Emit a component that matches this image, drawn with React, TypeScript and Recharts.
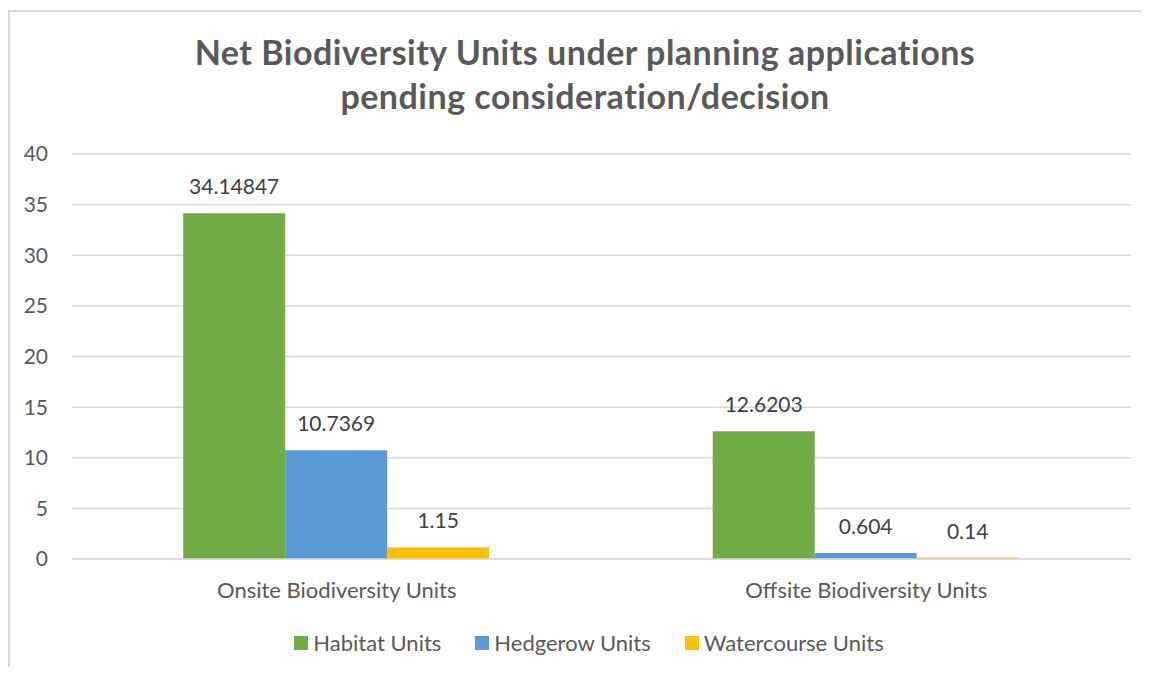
import { Bar, BarChart, CartesianGrid, LabelList, XAxis, YAxis } from "recharts"

const categories = ["Onsite Biodiversity Units", "Offsite Biodiversity Units"]
const habitatUnits = [34.14847, 12.6203]
const hedgerowUnits = [10.7369, 0.604]
const watercourseUnits = [1.15, 0.14]
const yTicks = [0, 5, 10, 15, 20, 25, 30, 35, 40]

const series = [
  { key: "habitat", name: "Habitat Units", color: "#70AD47" },
  { key: "hedgerow", name: "Hedgerow Units", color: "#5B9BD5" },
  { key: "watercourse", name: "Watercourse Units", color: "#FFC000" },
]

const data = categories.map((c, i) => ({
  name: c,
  habitat: habitatUnits[i],
  hedgerow: hedgerowUnits[i],
  watercourse: watercourseUnits[i],
}))

const FONT = "Lato, 'Noto Sans', sans-serif"
const AXIS_TEXT = "#595959"
const LABEL_TEXT = "#404040"
const GRID = "#d9d9d9"

export default function App() {
  return (
    <div
      style={{
        position: "relative",
        marginTop: 2,
        width: 1139,
        height: 655,
        borderLeft: `2px solid ${GRID}`,
        borderTop: `2px solid ${GRID}`,
        fontFamily: FONT,
        background: "#fff",
      }}
    >
      <div
        style={{
          position: "absolute",
          top: 18,
          left: 0,
          width: 1150,
          textAlign: "center",
          fontSize: 34,
          fontWeight: 700,
          letterSpacing: 0.5,
          lineHeight: "44px",
          color: AXIS_TEXT,
        }}
      >
        Net Biodiversity Units under planning applications
        <br />
        pending consideration/decision
      </div>
      <BarChart
        width={1139}
        height={655}
        data={data}
        margin={{ top: 142, right: 18, left: 0, bottom: 78 }}
        barCategoryGap="21%"
        barGap={0}
      >
        <CartesianGrid horizontal vertical={false} stroke={GRID} strokeWidth={1.5} />
        <XAxis
          dataKey="name"
          axisLine={{ stroke: GRID, strokeWidth: 1.5 }}
          tickLine={false}
          tickSize={0}
          tickMargin={23}
          tick={{ fill: AXIS_TEXT, fontSize: 22, fontFamily: FONT }}
        />
        <YAxis
          domain={[0, 40]}
          ticks={yTicks}
          width={62}
          axisLine={false}
          tickLine={false}
          tickSize={0}
          tickMargin={24}
          tick={{ fill: AXIS_TEXT, fontSize: 21, fontFamily: FONT }}
        />
        {series.map((s) => (
          <Bar key={s.key} dataKey={s.key} name={s.name} fill={s.color} isAnimationActive={false}>
            <LabelList
              dataKey={s.key}
              position="top"
              offset={19}
              fill={LABEL_TEXT}
              fontSize={21}
              fontFamily={FONT}
            />
          </Bar>
        ))}
      </BarChart>
      <div
        style={{
          position: "absolute",
          top: 619,
          left: 0,
          width: 1158,
          display: "flex",
          justifyContent: "center",
          alignItems: "center",
          gap: 34,
          fontSize: 22,
          color: AXIS_TEXT,
          lineHeight: "24px",
        }}
      >
        {series.map((s) => (
          <div key={s.key} style={{ display: "flex", alignItems: "center" }}>
            <span style={{ display: "inline-block", width: 14, height: 14, background: s.color, marginRight: 5 }} />
            <span>{s.name}</span>
          </div>
        ))}
      </div>
    </div>
  )
}
